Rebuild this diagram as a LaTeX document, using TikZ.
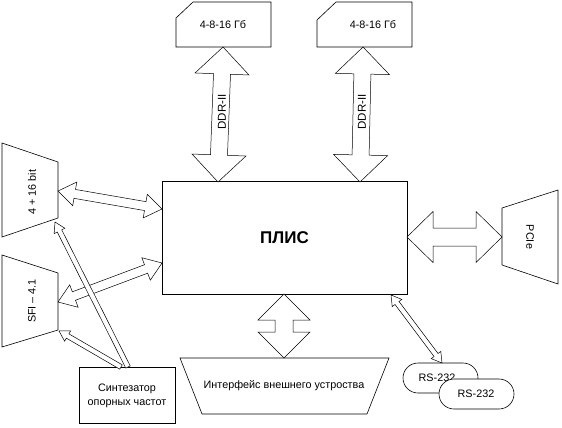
\documentclass[tikz,border=0pt]{standalone}
\usepackage{fontspec}
\setmainfont{Liberation Sans}
\usetikzlibrary{calc}
\tikzset{
  ln/.style={draw=black, line width=0.6pt, line join=miter},
  blk/.style={draw=black, fill=white, line width=0.5pt, line join=miter},
  lbl/.style={font=\fontsize{10.8}{13}\selectfont, inner sep=0pt},
}
% double block arrow: A, B, shaft half, head half, head length
\newcommand\dblarr[5]{%
  \coordinate (q1) at ($(#1)!#5!(#2)$);
  \coordinate (q2) at ($(#2)!#5!(#1)$);
  \draw[blk] (#1) -- ($(q1)!#4!90:(#2)$) -- ($(q1)!#3!90:(#2)$) -- ($(q2)!#3!-90:(#1)$) -- ($(q2)!#4!-90:(#1)$) -- (#2)
   -- ($(q2)!#4!90:(#1)$) -- ($(q2)!#3!90:(#1)$) -- ($(q1)!#3!-90:(#2)$) -- ($(q1)!#4!-90:(#2)$) -- cycle;
}
% single block arrow from A (tail) to B (tip)
\newcommand\sglarr[5]{%
  \coordinate (q2) at ($(#2)!#5!(#1)$);
  \draw[blk] ($(#1)!#3!-90:(#2)$) -- ($(q2)!#3!90:(#1)$) -- ($(q2)!#4!90:(#1)$) -- (#2)
   -- ($(q2)!#4!-90:(#1)$) -- ($(q2)!#3!-90:(#1)$) -- ($(#1)!#3!90:(#2)$) -- cycle;
}
\begin{document}
\begin{tikzpicture}[x=1pt,y=-1pt]
\useasboundingbox (0,0) rectangle (562,428);

% main FPGA box
\draw[ln] (162,181) rectangle (407,294);
\node[font=\bfseries\fontsize{17}{20}\selectfont, inner sep=0pt] (plis) at (284.5,237.5) {ПЛИС};

% memory boxes
\draw[ln] (176,18) -- (193,2) -- (271,2) -- (271,47) -- (176,47) -- cycle;
\node[lbl] (mem1) at (223,25) {4-8-16 Гб};
\draw[ln] (317,20) -- (336,2) -- (412,2) -- (412,47) -- (317,47) -- cycle;
\node[lbl] (mem2) at (373,25) {4-8-16 Гб};

% left trapezoids
\draw[ln] (2,143) -- (58,162) -- (58,218) -- (2,237) -- cycle;
\node[lbl, rotate=90] (b416) at (32,192) {4 + 16 bit};
\draw[ln] (2,255) -- (58,273) -- (58,330) -- (2,347) -- cycle;
\node[lbl, rotate=90] (sfi) at (32,301) {SFI – 4.1};

% PCIe trapezoid
\draw[ln] (502,208) -- (558,190) -- (558,284) -- (502,265) -- cycle;
\node[lbl, rotate=-90] (pcie) at (530,237) {PCIe};

% interface trapezoid
\draw[ln] (180,358) -- (389,358) -- (367,414) -- (202,414) -- cycle;
\node[lbl] (ifc) at (284,386) {Интерфейс внешнего устроства};

% synthesizer box
\draw[ln] (79,367) rectangle (175,423);
\node[lbl, align=center, font=\fontsize{10.8}{14}\selectfont] (syn) at (127,396) {Синтезатор\\опорных частот};

% RS-232
\draw[ln, fill=white, rounded corners=15pt] (403,363) rectangle (478,393);
\node[lbl] (rs1) at (437,378) {RS-232};
\draw[ln, fill=white, rounded corners=15pt] (439,379) rectangle (514,409);
\node[lbl] (rs2) at (476,394) {RS-232};

% connector endpoints
\coordinate (d1t) at (223,47);  \coordinate (d1b) at (218,182);
\coordinate (d2t) at (363,47);  \coordinate (d2b) at (360,182);
\coordinate (pl) at (407,237);  \coordinate (pr) at (502,237);
\coordinate (it) at (284,294);  \coordinate (ib) at (284,358);
\coordinate (a1l) at (58,191);  \coordinate (a1r) at (162,209);
\coordinate (a2l) at (58,302);  \coordinate (a2r) at (162,263);
\coordinate (s1t) at (128,367); \coordinate (s1h) at (55,222);
\coordinate (s2t) at (121,367); \coordinate (s2h) at (59,331);
\coordinate (rt) at (391,295);  \coordinate (rb) at (442,363);

\dblarr{d1t}{d1b}{8.5pt}{27pt}{27pt}
\dblarr{d2t}{d2b}{8.5pt}{27pt}{27pt}
\node[lbl, font=\fontsize{11.5}{13}\selectfont, rotate=90] (ddr1) at (222,112) {DDR-II};
\node[lbl, font=\fontsize{11.5}{13}\selectfont, rotate=90] (ddr2) at (362,112) {DDR-II};
\dblarr{pl}{pr}{9pt}{25.5pt}{26pt}
\dblarr{it}{ib}{9pt}{26pt}{26pt}
\dblarr{a1l}{a1r}{4.5pt}{12pt}{17pt}
\dblarr{a2l}{a2r}{4.5pt}{12pt}{17pt}
\sglarr{s1t}{s1h}{2.5pt}{6pt}{10pt}
\sglarr{s2t}{s2h}{2.5pt}{6pt}{10pt}
\dblarr{rt}{rb}{2.5pt}{6pt}{10pt}
\end{tikzpicture}
\end{document}
